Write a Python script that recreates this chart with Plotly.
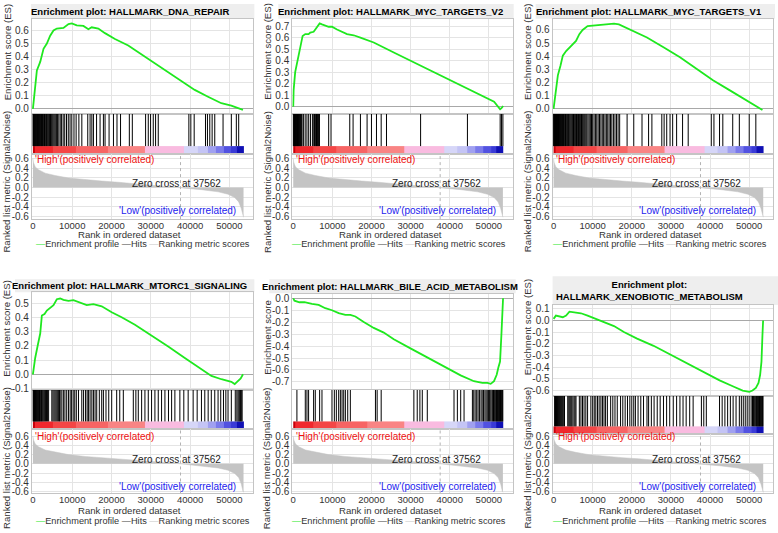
import math
import plotly.graph_objects as go

W, H = 778, 533
FONT = "Liberation Sans, Arial, sans-serif"

# ── ranked list metric (Signal2Noise) – one dataset behind all six panels ──
metric_rank = [0, 150, 590, 1440, 3130, 5670, 9050, 13280, 17510, 21740, 25970, 30200,
               34430, 37562, 42890, 47120, 49660, 51350, 52370, 53040, 53460, 53600]
metric_value = [0.60, 0.52, 0.43, 0.37, 0.30, 0.25, 0.20, 0.16, 0.135, 0.11, 0.08, 0.05,
                0.025, 0.0, -0.045, -0.09, -0.14, -0.21, -0.30, -0.44, -0.60, -0.62]
zero_cross = 37562

# ── red → blue strip under the hit lines ──
strip_edges = [0, 600, 5000, 11000, 19000, 28500, 38500, 42000, 44500, 46500, 48500,
               50500, 52000, 53600]
strip_colors = ["#c8000a", "#f0282d", "#f44646", "#f76464", "#f98484", "#f9bbe0",
                "#d6d6f8", "#c4c4f5", "#a0a0f0", "#7a7aeb", "#5252e1", "#3a3ad6", "#1010b4"]

# ── running enrichment score + hit ranks per gene set ──
dna_repair_rank = [0, 590, 1010, 1860, 2700, 3550, 4400, 5240, 6090, 7780, 9050, 9900,
                   11160, 12850, 14120, 14960, 16650, 18340, 20880, 24260, 28490, 32720,
                   36950, 41180, 44560, 47950, 50490, 52600, 53450]
dna_repair_es = [0.0, 0.18, 0.295, 0.36, 0.46, 0.50, 0.56, 0.60, 0.615, 0.62, 0.65, 0.655,
                 0.64, 0.635, 0.61, 0.625, 0.615, 0.58, 0.535, 0.485, 0.40, 0.32,
                 0.23, 0.145, 0.093, 0.043, 0.025, 0.005, -0.008]
dna_repair_hits = [30, 150, 260, 380, 470, 600, 720, 810, 950, 1080, 1190, 1330, 1450, 1600,
                   1720, 1880, 2010, 2170, 2300, 2460, 2620, 2790, 2950, 3120, 3300, 3480,
                   3650, 3850, 4040, 4250, 4470, 4690, 4920, 5160, 5420, 5690, 5980, 6280,
                   6600, 6950, 7300, 7700, 8100, 8550, 9000, 9450, 9900, 10450, 11000,
                   11700, 12450, 13960, 14550, 15000, 15400, 16200, 17090, 17940, 18360,
                   19380, 20500, 21400, 22300, 24540, 25300, 28680, 29360, 29950, 30630,
                   31220, 31900, 39690, 40190, 41040, 43920, 44420, 45010, 45610, 46280,
                   48390, 50500, 51770, 52370]

myc_v2_rank = [0, 100, 500, 770, 1370, 1970, 2400, 3080, 3930, 4360, 5210, 5640, 6240,
               6750, 7350, 8200, 9060, 9910, 11190, 13750, 15460, 17170, 20580, 25710,
               30840, 35970, 41100, 46230, 51350, 52890, 53230, 53660]
myc_v2_es = [0.0, 0.143, 0.30, 0.343, 0.443, 0.53, 0.614, 0.63, 0.63, 0.643, 0.65, 0.67,
             0.70, 0.723, 0.714, 0.706, 0.694, 0.694, 0.67, 0.63, 0.62, 0.60, 0.557, 0.47,
             0.386, 0.30, 0.214, 0.13, 0.043, -0.023, -0.014, 0.006]
myc_v2_hits = [20, 130, 240, 330, 450, 560, 650, 760, 870, 980, 1090, 1200, 1320, 1430,
               1550, 1680, 1800, 1930, 2080, 2250, 2600, 3050, 3500, 3950, 4400, 4900,
               5250, 5450, 5620, 5800, 5950, 6100, 6250, 6400, 6550, 6700, 9060, 9660,
               14450, 15300, 17180, 18880, 20000, 21280, 22480, 23840, 32560, 44530,
               52900, 53250, 53600]

myc_v1_rank = [0, 520, 1100, 1780, 2370, 3210, 4480, 5740, 6590, 7430, 8700, 10380,
               12070, 13760, 15450, 16710, 17980, 20510, 23880, 28100, 32320, 36530,
               40750, 44970, 49180, 52140, 53400]
myc_v1_es = [0.0, 0.13, 0.255, 0.33, 0.405, 0.44, 0.48, 0.517, 0.568, 0.60, 0.63, 0.635,
             0.643, 0.648, 0.648, 0.643, 0.625, 0.593, 0.543, 0.468, 0.393, 0.305,
             0.218, 0.143, 0.068, 0.018, -0.008]
myc_v1_hits = [20, 110, 200, 300, 390, 480, 570, 670, 760, 860, 950, 1050, 1150, 1260,
               1370, 1480, 1600, 1720, 1850, 1980, 2120, 2260, 2400, 2560, 2720, 2890,
               3060, 3240, 3420, 3610, 3800, 4000, 4200, 4420, 4650, 4880, 5100, 5300,
               5500, 5680, 5860, 6050, 6230, 6400, 6580, 6760, 6950, 7150, 7350, 7560,
               7780, 8000, 8250, 8500, 8800, 9100, 9400, 9700, 10000, 10350, 10700,
               11050, 11400, 11750, 12100, 12450, 12800, 13150, 13500, 13850, 14200,
               14550, 14900, 15300, 15700, 16100, 16500, 16900, 18800, 20500, 22610,
               24290, 25140, 27670, 28260, 28930, 29780, 30450, 31460, 32980, 34420,
               40320, 41000, 42430, 43270, 45800, 47490, 50020, 51710]

mtorc1_rank = [0, 580, 1250, 1860, 2280, 2960, 3550, 4400, 5240, 6090, 6940, 7780, 9050,
               10320, 12010, 13700, 15390, 17510, 20050, 22580, 25970, 30200, 34430,
               38660, 42890, 45430, 47970, 50500, 51350, 52200, 52880, 53470]
mtorc1_es = [0.0, 0.115, 0.207, 0.288, 0.415, 0.426, 0.45, 0.472, 0.488, 0.53, 0.535,
             0.525, 0.518, 0.523, 0.507, 0.488, 0.495, 0.48, 0.438, 0.403, 0.35, 0.276,
             0.196, 0.115, 0.035, -0.012, -0.035, -0.053, -0.069, -0.046, -0.03, 0.0]
mtorc1_hits = [60, 180, 300, 420, 540, 680, 810, 950, 1090, 1230, 1380, 1530, 1690, 1850,
               2020, 2200, 2380, 2570, 2780, 3000, 3230, 3470, 3730, 4000, 4820, 5100,
               5380, 5650, 5920, 6200, 6480, 6750, 6940, 7360, 7750, 8150, 8600, 9050,
               9480, 9850, 10250, 10650, 11050, 11600, 12440, 12900, 13400, 13800, 14130,
               14550, 15000, 15400, 15820, 16240, 16900, 17510, 17940, 18600, 19300,
               20050, 21320, 22100, 23010, 25550, 26200, 26820, 27670, 28510, 29360,
               30200, 31050, 31900, 32740, 33600, 34500, 35300, 36130, 37400, 38400,
               39510, 40780, 41800, 42890, 43740, 44600, 45400, 46280, 47120, 47800,
               48500, 49100, 49660, 50500, 51500, 51900, 52200, 52450, 52650, 52850,
               53040, 53250]

bile_acid_rank = [0, 310, 1590, 2870, 4790, 6500, 8200, 9910, 11620, 13330, 14610, 15890,
                  18030, 20580, 23140, 25700, 29970, 34240, 38520, 42790, 46200, 48340,
                  49620, 50480, 51330, 52010, 52440, 52870, 53210, 53470, 53640]
bile_acid_es = [0.0, -0.02, -0.033, -0.033, -0.047, -0.055, -0.083, -0.10, -0.124,
                -0.138, -0.138, -0.152, -0.198, -0.248, -0.287, -0.342, -0.419, -0.496,
                -0.57, -0.645, -0.694, -0.708, -0.708, -0.716, -0.694, -0.64, -0.579,
                -0.529, -0.309, -0.143, 0.0]
bile_acid_hits = [940, 3080, 3510, 3930, 5210, 5640, 6750, 7350, 9910, 10510, 11020, 11620,
                  12050, 12480, 12910, 13330, 13930, 14600, 21020, 21450, 22480, 30840,
                  31700, 32380, 32990, 34270, 41100, 41960, 42810, 43670, 45800, 46150,
                  46500, 46900, 47250, 47600, 48000, 48300, 48650, 49000, 49300, 49600,
                  49900, 50200, 50500, 50800, 51000, 51200, 51400, 51600, 51800, 51950,
                  52100, 52250, 52400, 52550, 52700, 52850, 53000, 53150, 53300, 53450,
                  53580]

xenobiotic_rank = [0, 600, 2370, 3210, 4060, 5320, 7010, 8700, 10380, 12910, 15450, 17980,
                   21350, 25570, 29790, 34000, 38220, 42440, 45810, 48340, 50030, 50870,
                   51710, 52390, 52810, 53150, 53400, 53570]
xenobiotic_es = [0.014, 0.042, 0.028, 0.042, 0.076, 0.07, 0.062, 0.042, 0.02, -0.02,
                 -0.048, -0.099, -0.155, -0.217, -0.29, -0.366, -0.442, -0.513, -0.563,
                 -0.60, -0.611, -0.60, -0.577, -0.535, -0.465, -0.352, -0.127, 0.0]
xenobiotic_hits = [260, 500, 750, 1000, 1250, 1500, 1750, 2000, 2250, 2500, 2800, 3630,
                   3900, 4150, 4400, 4650, 4950, 5250, 5500, 5740, 6590, 7000, 7400, 7800,
                   8250, 8700, 9540, 10000, 10400, 10800, 11230, 11650, 12100, 12500,
                   12900, 13300, 13760, 14600, 15150, 15700, 16290, 17130, 17700, 18300,
                   18900, 19500, 20000, 20500, 20920, 21600, 22300, 23000, 23880, 24300,
                   25000, 25700, 26500, 27250, 28100, 28900, 29700, 30600, 31460, 32310,
                   33100, 33900, 34800, 35680, 37790, 38400, 39050, 42430, 43100, 43800,
                   44500, 45200, 45900, 46650, 47490, 48000, 48500, 49000, 49500, 50000,
                   50500, 50860, 51100, 51300, 51500, 51700, 51900, 52050, 52200, 52350,
                   52500, 52650, 52800, 52950, 53100, 53250, 53400, 53550]

panels = [
    ("Enrichment plot: HALLMARK_DNA_REPAIR", "Enrichment score (ES)",
     dna_repair_rank, dna_repair_es, dna_repair_hits),
    ("Enrichment plot: HALLMARK_MYC_TARGETS_V2", "Enrichment score (ES)",
     myc_v2_rank, myc_v2_es, myc_v2_hits),
    ("Enrichment plot: HALLMARK_MYC_TARGETS_V1", "Enrichment score (ES)",
     myc_v1_rank, myc_v1_es, myc_v1_hits),
    ("Enrichment plot: HALLMARK_MTORC1_SIGNALING", "Enrichment score (ES)",
     mtorc1_rank, mtorc1_es, mtorc1_hits),
    ("Enrichment plot: HALLMARK_BILE_ACID_METABOLISM", "Enrichment score",
     bile_acid_rank, bile_acid_es, bile_acid_hits),
    ("Enrichment plot:<br>HALLMARK_XENOBIOTIC_METABOLISM", "Enrichment score (ES)",
     xenobiotic_rank, xenobiotic_es, xenobiotic_hits),
]

# ── pixel layout of every panel ──
ROW1 = dict(band=(1, 16), es=(16, 112), hits=(112, 153), rk=(153, 219), rk_range=[-0.66, 0.70],
            es_title_y=49, rk_title_y=181, rank_label_y=234.5, legend_y=244.5)
ROW2 = dict(band=(280, 293), es=(293, 392), hits=(392, 432), rk=(432, 497),
            rk_range=[-0.645, 0.75], es_title_y=329, rk_title_y=461, rank_label_y=514.5,
            legend_y=525)
boxes = [
    dict(ROW1, l=30, r=252, cx=128, band_x=(29, 253), es_range=[-0.036, 0.69], legend_x=32),
    dict(ROW1, l=291, r=512, cx=389, band_x=(277, 513), es_range=[-0.06, 0.763], legend_x=289),
    dict(ROW1, l=552, r=773, cx=649, band_x=(535, 775), es_range=[-0.035, 0.685], legend_x=550),
    dict(ROW2, l=30, r=252, cx=128, band_x=(13, 253), es_range=[-0.11, 0.58], legend_x=32),
    dict(ROW2, l=291, r=512, cx=389, band=(280, 294), es=(295, 391), band_x=(268, 515),
         es_range=[-0.758, 0.035], es_title_y=339, legend_x=289),
    dict(ROW2, l=552, r=773, cx=649, band=(277, 306), es=(306, 398), hits=(398, 437),
         rk=(437, 497), rk_range=[-0.643, 0.643], band_x=(552, 778),
         es_range=[-0.645, 0.133], es_title_y=328, legend_x=550),
]
X_RANGE = [-250, 56100]
STRIP_PX = 8
GRID = "#e4e4e4"
EDGE = "#c4c4c4"


def ticks(lo, hi, step):
    vals = [round(k * step, 2) for k in range(math.ceil(lo / step - 1e-9),
                                              math.floor(hi / step + 1e-9) + 1)]
    return vals, [f"{v:.1f}" for v in vals]


def names(n):
    s = "" if n == 1 else str(n)
    return "xaxis" + s, "yaxis" + s, "x" + s, "y" + s


def ydom(top, bottom):
    return [1 - bottom / H, 1 - top / H]


def note(x, y, text, **kw):
    d = dict(x=x, y=y, text=text, showarrow=False, xanchor="center", yanchor="middle",
             xref="paper", yref="paper")
    d.update(kw)
    return d


fig = go.Figure()
layout = dict(width=W, height=H, margin=dict(l=0, r=0, t=0, b=0), showlegend=False,
              plot_bgcolor="white", paper_bgcolor="white",
              font=dict(family=FONT, size=10, color="#333333"))
shapes, notes = [], []
n_strip = len(strip_colors)
strip_scale = [[k / (n_strip - 1), c] for k, c in enumerate(strip_colors)]

for i, ((title, es_label, rank, es, hits), b) in enumerate(zip(panels, boxes)):
    xdom = [b["l"] / W, b["r"] / W]
    ax_es, ax_hit, ax_rk = names(3 * i + 1), names(3 * i + 2), names(3 * i + 3)

    # ── running enrichment score ──
    tv, tt = ticks(b["es_range"][0], b["es_range"][1], 0.1)
    layout[ax_es[0]] = dict(domain=xdom, range=X_RANGE, anchor=ax_es[3], showticklabels=False,
                            dtick=10000, tick0=0, showgrid=True, gridcolor=GRID, zeroline=False,
                            showline=True, mirror=True, linecolor=EDGE)
    layout[ax_es[1]] = dict(domain=ydom(*b["es"]), range=b["es_range"], anchor=ax_es[2],
                            tickvals=tv, ticktext=tt, showgrid=True, gridcolor=GRID,
                            zeroline=True, zerolinecolor="#a8a8a8", zerolinewidth=1,
                            showline=True, mirror=True, linecolor=EDGE)
    fig.add_trace(go.Scatter(x=rank, y=es, mode="lines", line=dict(color="#1fe81f", width=1.8),
                             xaxis=ax_es[2], yaxis=ax_es[3], hoverinfo="skip"))

    # ── hits + colour strip ──
    strip_top = STRIP_PX / (b["hits"][1] - b["hits"][0])
    layout[ax_hit[0]] = dict(domain=xdom, range=X_RANGE, anchor=ax_hit[3], showticklabels=False,
                             showgrid=False, zeroline=False, showline=True, mirror=True,
                             linecolor=EDGE)
    layout[ax_hit[1]] = dict(domain=ydom(*b["hits"]), range=[0, 1], anchor=ax_hit[2],
                             showticklabels=False, showgrid=False, zeroline=False,
                             showline=True, mirror=True, linecolor=EDGE)
    hx, hy = [], []
    for h in hits:
        hx += [h, h, None]
        hy += [strip_top, 1, None]
    fig.add_trace(go.Scatter(x=hx, y=hy, mode="lines", line=dict(color="black", width=1),
                             xaxis=ax_hit[2], yaxis=ax_hit[3], hoverinfo="skip"))
    fig.add_trace(go.Heatmap(x=strip_edges, y=[0, strip_top], z=[list(range(n_strip))],
                             colorscale=strip_scale, zmin=0, zmax=n_strip - 1,
                             showscale=False, xaxis=ax_hit[2], yaxis=ax_hit[3],
                             hoverinfo="skip"))

    # ── ranked list metric ──
    rv, rt = ticks(-0.6, 0.6, 0.2)
    layout[ax_rk[0]] = dict(domain=xdom, range=X_RANGE, anchor=ax_rk[3], dtick=10000, tick0=0,
                            tickformat="d", tickfont=dict(size=9.5), ticklabelstandoff=-3,
                            showgrid=True, gridcolor=GRID, zeroline=False, showline=True,
                            mirror=True, linecolor=EDGE)
    layout[ax_rk[1]] = dict(domain=ydom(*b["rk"]), range=b["rk_range"], anchor=ax_rk[2],
                            tickvals=rv, ticktext=rt, showgrid=True, gridcolor=GRID,
                            zeroline=False, showline=True, mirror=True, linecolor=EDGE)
    fig.add_trace(go.Scatter(x=metric_rank, y=metric_value, mode="lines", fill="tozeroy",
                             fillcolor="#c4c4c4", line=dict(color="#c4c4c4", width=0.5),
                             xaxis=ax_rk[2], yaxis=ax_rk[3], hoverinfo="skip"))
    fig.add_trace(go.Scatter(x=[zero_cross, zero_cross], y=b["rk_range"], mode="lines",
                             line=dict(color="#b4b4b4", width=1, dash="dot"),
                             xaxis=ax_rk[2], yaxis=ax_rk[3], hoverinfo="skip"))

    # ── texts ──
    bt, bb = b["band"]
    shapes.append(dict(type="rect", xref="paper", yref="paper", layer="below",
                       x0=b["band_x"][0] / W, x1=b["band_x"][1] / W,
                       y0=1 - bb / H, y1=1 - bt / H, fillcolor="#eeeeee", line=dict(width=0)))
    notes.append(note(b["cx"] / W, 1 - (bt + bb) / 2 / H, f"<b>{title}</b>",
                      font=dict(size=9.5, color="black")))
    notes.append(note((b["l"] - 25) / W, 1 - b["es_title_y"] / H, es_label, textangle=-90,
                      font=dict(size=9.6)))
    notes.append(note((b["l"] - 25) / W, 1 - b["rk_title_y"] / H,
                      "Ranked list metric (Signal2Noise)", textangle=-90, font=dict(size=9.6)))
    notes.append(note((b["l"] + 98) / W, 1 - b["rank_label_y"] / H, "Rank in ordered dataset",
                      font=dict(size=9.6)))
    notes.append(note(b["legend_x"] / W, 1 - b["legend_y"] / H,
                      "<span style='color:#1fe81f'>—</span>Enrichment profile "
                      "<span style='color:#444444'>—</span>Hits "
                      "<span style='color:#c8c8c8'>—</span>Ranking metric scores",
                      xanchor="left", font=dict(size=9.2)))
    notes.append(note(100, 0.59, "'High'(positively correlated)", xref=ax_rk[2],
                      yref=ax_rk[3], xanchor="left", font=dict(color="#ee1111")))
    notes.append(note(zero_cross, 0.09, "Zero cross at 37562", xref=ax_rk[2], yref=ax_rk[3],
                      xshift=-4, font=dict(color="#222222")))
    notes.append(note(52300, -0.49, "'Low'(positively correlated)", xref=ax_rk[2],
                      yref=ax_rk[3], xanchor="right", font=dict(color="#2222ee")))

layout["shapes"] = shapes
layout["annotations"] = notes
fig.update_layout(**layout)
# the page's default 8px body margin would push the figure off the 778x533 window
fig.write_html("out.html", config={"displayModeBar": False},
               post_script="document.body.style.margin = '0';")
